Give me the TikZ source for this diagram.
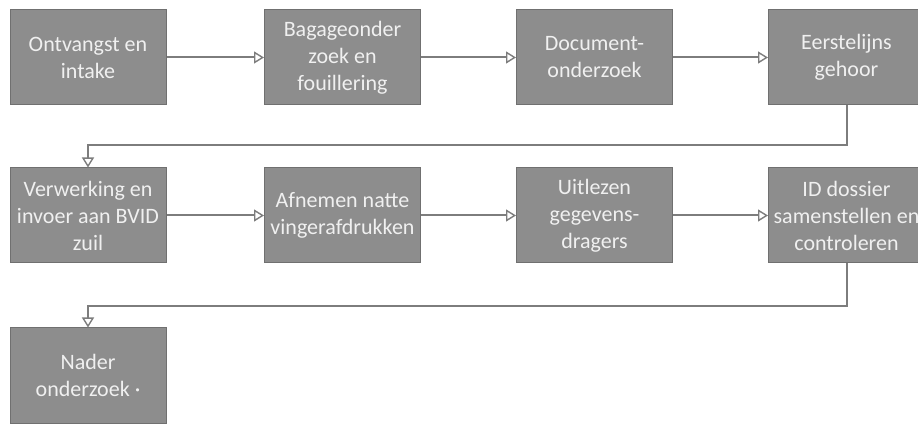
\documentclass[tikz,border=0pt]{standalone}
\usepackage{fontspec}
\setmainfont{Carlito}
\usepackage{tikz}
\usetikzlibrary{arrows.meta,positioning}
\usepackage{xcolor}
\definecolor{vak}{RGB}{141,141,141}
\definecolor{rand}{RGB}{112,112,112}
\definecolor{lijn}{RGB}{125,125,125}
\definecolor{tekst}{RGB}{240,240,240}

\begin{document}
\begin{tikzpicture}[x=1pt,y=1pt,
  stap/.style={draw=rand, line width=1pt, fill=vak, text=tekst, minimum width=156pt, minimum height=95pt,
    inner sep=0pt, align=center, font=\fontsize{22}{27}\selectfont},
  pijl/.style={draw=lijn, line width=2pt, -{Triangle[open, length=10pt, width=12pt, line width=1.4pt]}}]
  \useasboundingbox (0,0) rectangle (918,423);
  % eerste rij
  \node[stap] (a1) at (88,365.5) {Ontvangst en\\intake};
  \node[stap] (a2) at (342.5,365.5) {Bagageonder\\zoek en\\fouillering};
  \node[stap] (a3) at (594.5,365.5) {Document-\\onderzoek};
  \node[stap] (a4) at (846.5,365.5) {Eerstelijns\\gehoor};
  % tweede rij
  \node[stap] (b1) at (88,207.5) {Verwerking en\\invoer aan BVID\\zuil};
  \node[stap] (b2) at (342.5,207.5) {Afnemen natte\\vingerafdrukken};
  \node[stap] (b3) at (594.5,207.5) {Uitlezen\\gegevens-\\dragers};
  \node[stap] (b4) at (846.5,207.5) {ID dossier\\samenstellen en\\controleren};
  % derde rij
  \node[stap] (c1) at (88,47.5) {Nader\\onderzoek ·};
  \draw[pijl] (a1) -- (a2);
  \draw[pijl] (a2) -- (a3);
  \draw[pijl] (a3) -- (a4);
  \draw[pijl] (a4.south) -- ++(0,-40) -| (b1.north);
  \draw[pijl] (b1) -- (b2);
  \draw[pijl] (b2) -- (b3);
  \draw[pijl] (b3) -- (b4);
  \draw[pijl] (b4.south) -- ++(0,-43) -| (c1.north);
\end{tikzpicture}
\end{document}
